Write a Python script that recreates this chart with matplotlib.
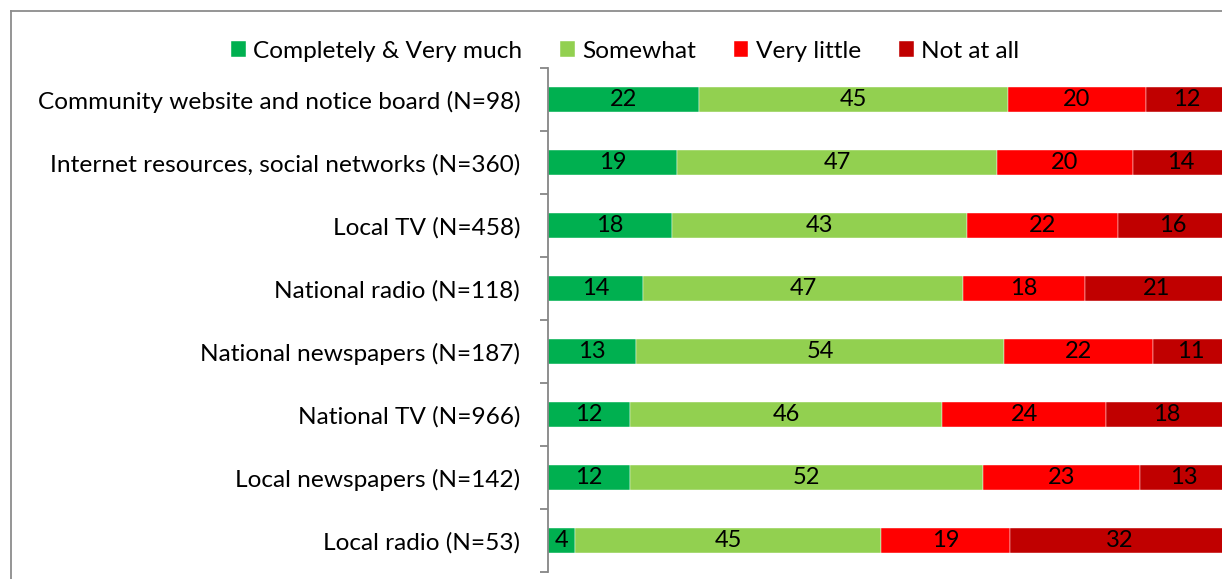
import numpy as np
import matplotlib.pyplot as plt
from matplotlib.lines import Line2D

plt.rcParams['font.family'] = ['Lato', 'DejaVu Sans']

sources = [
    "Community website and notice board (N=98)",
    "Internet resources, social networks (N=360)",
    "Local TV (N=458)",
    "National radio (N=118)",
    "National newspapers (N=187)",
    "National TV (N=966)",
    "Local newspapers (N=142)",
    "Local radio (N=53)",
]
completely = [22, 19, 18, 14, 13, 12, 12, 4]
somewhat = [45, 47, 43, 47, 54, 46, 52, 45]
very_little = [20, 20, 22, 18, 22, 24, 23, 19]
not_at_all = [12, 14, 16, 21, 11, 18, 13, 32]

series = ["Completely & Very much", "Somewhat", "Very little", "Not at all"]
colors = ["#00B050", "#92D050", "#FF0000", "#C00000"]

vals = np.array([completely, somewhat, very_little, not_at_all], dtype=float)
shares = vals / vals.sum(axis=0) * 100  # 100% stacked

fig = plt.figure(figsize=(12.22, 5.79), dpi=100)
ax = fig.add_axes([548 / 1222, 1 - 572 / 579, 680 / 1222, 504 / 579])

y = np.arange(len(sources))
left = np.zeros(len(sources))
for i in range(4):
    ax.barh(y, shares[i], left=left, height=0.41, color=colors[i],
            edgecolor="white", linewidth=0.3, label=series[i])
    for j in range(len(sources)):
        ax.text(left[j] + shares[i][j] / 2, y[j], f"{int(vals[i][j])}",
                ha="center", va="center", fontsize=17, color="black")
    left += shares[i]

ax.set_xlim(0, 100)
ax.set_ylim(len(sources) - 0.5, -0.5)
ax.set_yticks(y)
ax.set_yticklabels(sources, fontsize=17.6)
ax.tick_params(axis="y", which="major", length=0, pad=20)
ax.set_yticks(np.arange(-0.5, len(sources)), minor=True)
ax.tick_params(axis="y", which="minor", length=6, width=1.3, color="#868686")
ax.set_xticks([])
for s in ["top", "right", "bottom"]:
    ax.spines[s].set_visible(False)
ax.spines["left"].set_color("#868686")
ax.spines["left"].set_linewidth(1.3)

# outer chart frame
fig.add_artist(Line2D([11 / 1222, 11 / 1222], [0, 1 - 11 / 579],
                      transform=fig.transFigure, color="#8c8c8c", lw=1.3))
fig.add_artist(Line2D([11 / 1222, 1], [1 - 11 / 579, 1 - 11 / 579],
                      transform=fig.transFigure, color="#8c8c8c", lw=1.3))

fig.legend(loc="center", bbox_to_anchor=(625 / 1222, 1 - 51 / 579), ncol=4,
           frameon=False, fontsize=17.6, handlelength=0.6, handleheight=0.6,
           handletextpad=0.3, columnspacing=1.55)

fig.savefig("out.png", dpi=100)
